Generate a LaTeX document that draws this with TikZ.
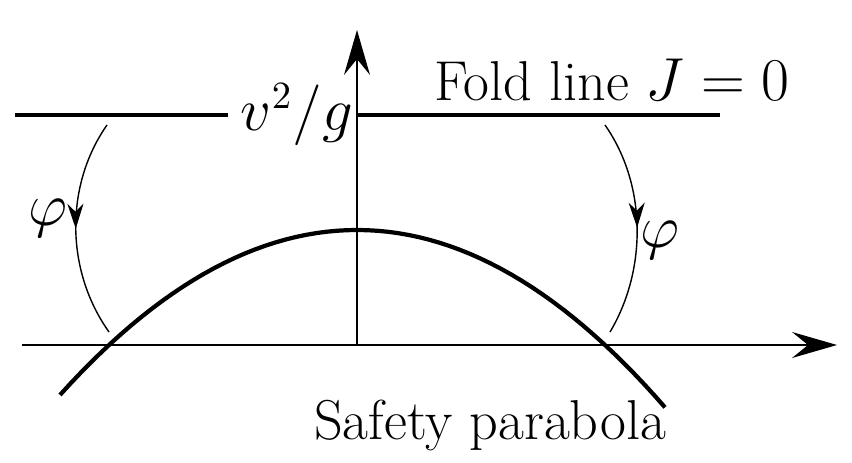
\documentclass[tikz,border=0pt]{standalone}
\usetikzlibrary{arrows.meta,decorations.markings}
\begin{document}
\begin{tikzpicture}[font=\fontsize{16}{19}\selectfont,
    bigtip/.style={-{Stealth[length=4.5mm,width=2.6mm,inset=1.6mm]}},
    anglearc/.style={thin,postaction={decorate},decoration={markings,
        mark=at position 0.5 with {\arrow{Stealth[length=2.5mm,width=1.6mm,inset=0.8mm]}}}}]
    \useasboundingbox (-3.57,-1.17) rectangle (4.95,3.45);

    % axes
    \draw[thin,bigtip] (-3.35,0) -- (4.8,0);
    \draw[thin,bigtip] (0,0) -- (0,3.15);

    % fold line
    \node (vg) at (-0.6,2.3) {$v^2/g$};
    \draw[line width=1.2pt] (-3.42,2.3) -- (-1.29,2.3);
    \draw[line width=1.2pt] (0,2.3) -- (3.63,2.3);
    \node (fold) at (2.55,2.65) {Fold line $J=0$};

    % parabola
    \draw[line width=1.2pt,domain=-2.97:3.08,samples=60]
        plot (\x,{1.15-0.187*\x*\x});
    \node (safe) at (1.33,-0.8) {Safety parabola};

    % angle arcs
    \draw[anglearc] (-2.5,2.2) .. controls (-2.92,1.6) and (-2.92,0.75) .. (-2.48,0.13);
    \draw[anglearc] (2.48,2.2) .. controls (2.9,1.6) and (2.9,0.75) .. (2.53,0.13);
    \node (phil) at (-3.09,1.27) {$\varphi$};
    \node (phir) at (3.03,1.05) {$\varphi$};
\end{tikzpicture}
\end{document}
